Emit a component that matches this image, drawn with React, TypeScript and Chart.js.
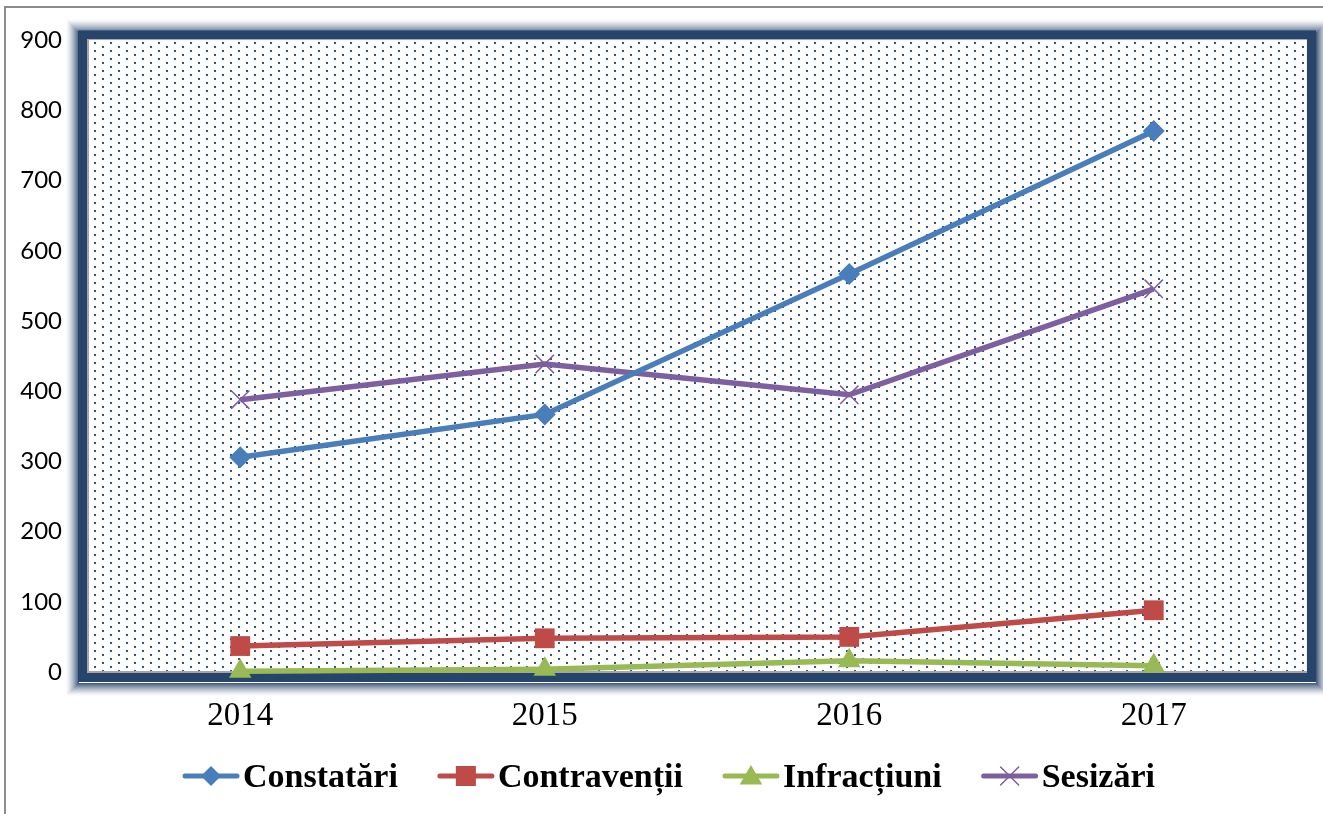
import React, { useEffect, useRef } from "react";
import { Chart, registerables } from "chart.js";

Chart.register(...registerables);

const years = ["2014", "2015", "2016", "2017"];
const constatari = [306, 367, 567, 771];
const contraventii = [37, 48, 50, 88];
const infractiuni = [1, 4, 16, 9];
const sesizari = [388, 439, 395, 546];
const seriesNames = ["Constatări", "Contravenții", "Infracțiuni", "Sesizări"];
const seriesColors = ["#4A7EBB", "#BE4B48", "#98B954", "#7D60A0"];
const yMin = 0;
const yMax = 900;
const yStep = 100;

const W = 1323;
const H = 814;

const framePlugin = {
  id: "frame",
  beforeDraw(chart: any) {
    const { ctx, chartArea: a } = chart;
    ctx.save();
    ctx.strokeStyle = "#8c8c8c";
    ctx.lineWidth = 2;
    ctx.beginPath();
    ctx.moveTo(5, H + 10);
    ctx.lineTo(5, 7);
    ctx.lineTo(W + 10, 7);
    ctx.stroke();

    const solid = 9;
    const fade = 13;
    const ox = 1;
    const oy = 2;
    ctx.lineWidth = 1;
    for (let i = fade; i >= 1; i--) {
      const t = i / (fade + 1);
      const alpha = Math.pow(1 - t, 1.5) * 0.95;
      ctx.strokeStyle = `rgba(39,66,104,${alpha})`;
      const d = solid + i;
      ctx.strokeRect(a.left - d + ox - 0.5, a.top - d + oy - 0.5, a.width + 2 * d, a.height + 2 * d);
    }
    ctx.fillStyle = "#27446A";
    ctx.fillRect(a.left - solid - 1, a.top - solid - 1, a.width + 2 * solid + 2, a.height + 2 * solid + 2);
    ctx.restore();

    ctx.save();
    ctx.fillStyle = "#f2f2f2";
    ctx.fillRect(a.left - 1, a.top - 1, a.width + 2, a.height + 2);
    ctx.fillStyle = "#ffffff";
    ctx.fillRect(a.left, a.top, a.width, a.height);
    ctx.beginPath();
    ctx.rect(a.left, a.top, a.width, a.height);
    ctx.clip();
    ctx.fillStyle = "#2F5689";
    const x0 = Math.floor(a.left / 16) * 16 - 16;
    const y0 = Math.floor(a.top / 8) * 8 - 8;
    for (let y = y0; y < a.bottom + 8; y += 8) {
      for (let x = x0; x < a.right + 16; x += 16) {
        ctx.fillRect(x + 6, y + 6, 2, 2);
        ctx.fillRect(x + 14, y + 2, 2, 2);
      }
    }
    ctx.restore();
  },
};

function drawMarker(ctx: CanvasRenderingContext2D, kind: number, x: number, y: number, color: string) {
  ctx.save();
  ctx.fillStyle = color;
  ctx.strokeStyle = color;
  if (kind === 0) {
    const r = 10;
    ctx.beginPath();
    ctx.moveTo(x - r, y);
    ctx.lineTo(x, y - r);
    ctx.lineTo(x + r, y);
    ctx.lineTo(x, y + r);
    ctx.closePath();
    ctx.fill();
  } else if (kind === 1) {
    ctx.fillRect(x - 10, y - 10, 20, 20);
  } else if (kind === 2) {
    const r = 13;
    const yc = y + 2;
    ctx.beginPath();
    ctx.moveTo(x, yc - r);
    ctx.lineTo(x + r * 0.866, yc + r / 2);
    ctx.lineTo(x - r * 0.866, yc + r / 2);
    ctx.closePath();
    ctx.fill();
  } else {
    const d = 9;
    ctx.lineWidth = 1.5;
    ctx.beginPath();
    ctx.moveTo(x - d, y - d);
    ctx.lineTo(x + d, y + d);
    ctx.moveTo(x + d, y - d);
    ctx.lineTo(x - d, y + d);
    ctx.stroke();
  }
  ctx.restore();
}

const legendPlugin = {
  id: "customLegend",
  afterDraw(chart: any) {
    const { ctx } = chart;
    ctx.save();
    ctx.font = "bold 34px 'Liberation Serif'";
    ctx.textBaseline = "alphabetic";
    ctx.textAlign = "left";
    const lineW = 56;
    const gapText = 4;
    const gapItem = 40;
    const widths = seriesNames.map((n) => ctx.measureText(n).width);
    let x = 183;
    const yMid = 776;
    const baseline = 787;
    seriesNames.forEach((name, i) => {
      const c = seriesColors[i];
      ctx.strokeStyle = c;
      ctx.lineWidth = 5;
      ctx.lineCap = "round";
      ctx.beginPath();
      ctx.moveTo(x + 2, yMid);
      ctx.lineTo(x + lineW - 2, yMid);
      ctx.stroke();
      drawMarker(ctx, i, x + lineW / 2, yMid, c);
      ctx.fillStyle = "#000";
      ctx.fillText(name, x + lineW + gapText, baseline);
      x += lineW + gapText + widths[i] + gapItem;
    });
    ctx.restore();
  },
};

export default function App() {
  const ref = useRef<HTMLCanvasElement | null>(null);
  useEffect(() => {
    if (!ref.current) return;
    const mk = (i: number, data: number[], style: string, radius: number, extra: any = {}) => ({
      label: seriesNames[i],
      data,
      borderColor: seriesColors[i],
      backgroundColor: seriesColors[i],
      borderWidth: 5.5,
      pointStyle: style,
      pointRadius: radius,
      pointHoverRadius: radius,
      pointBackgroundColor: seriesColors[i],
      pointBorderColor: seriesColors[i],
      pointBorderWidth: 0,
      tension: 0,
      clip: false,
      ...extra,
    });
    const chart = new Chart(ref.current, {
      type: "line",
      data: {
        labels: years,
        datasets: [
          mk(0, constatari, "rectRot", 11),
          mk(1, contraventii, "rect", 14),
          mk(2, infractiuni, "triangle", 13),
          mk(3, sesizari, "crossRot", 13, { pointBorderWidth: 1.5 }),
        ],
      },
      options: {
        animation: false,
        responsive: false,
        events: [],
        layout: { padding: { left: 0, top: 37, right: 17, bottom: 82 } },
        plugins: { legend: { display: false }, tooltip: { enabled: false } },
        scales: {
          x: {
            offset: true,
            grid: { display: false, drawTicks: false },
            border: { display: true, color: "#a6a6a6", width: 2 },
            ticks: {
              color: "#000",
              padding: 25,
              font: { family: "'Liberation Serif'", size: 33 },
            },
            afterFit: (s: any) => {
              s.height = 60;
            },
          },
          y: {
            min: yMin,
            max: yMax,
            grid: { display: false, drawTicks: false },
            border: { display: true, color: "#a6a6a6", width: 2 },
            ticks: {
              stepSize: yStep,
              color: "#000",
              padding: 26,
              font: { family: "Lato", size: 24 },
            },
            afterFit: (s: any) => {
              s.width = 88;
            },
          },
        },
      },
      plugins: [framePlugin, legendPlugin],
    });
    return () => chart.destroy();
  }, []);
  return (
    <div style={{ position: "fixed", left: 0, top: 0, width: W, height: H, background: "#fff" }}>
      <canvas ref={ref} width={W} height={H} style={{ display: "block", width: W, height: H }} />
    </div>
  );
}
